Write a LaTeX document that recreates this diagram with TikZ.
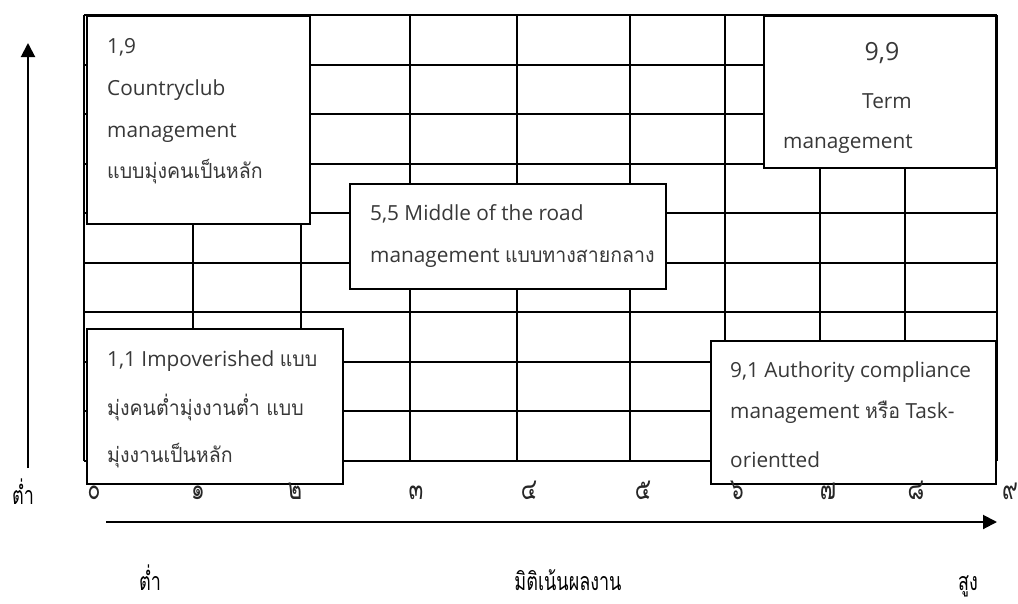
\documentclass[tikz,border=0pt]{standalone}
\usepackage{fontspec}
\setmainfont{Open Sans}
\newfontfamily\thai[Script=Thai, Scale=1.0, FakeStretch=0.94]{Loma}
\newfontfamily\thaic[Script=Thai, FakeStretch=0.72]{Loma}
\usetikzlibrary{arrows.meta}
\begin{document}
\begin{tikzpicture}[x=1pt,y=-1pt,
  gridline/.style={line width=2pt},
  qbox/.style={draw, line width=2pt, fill=white, inner sep=0pt, anchor=north west},
  txt/.style={anchor=base west, inner sep=0pt, font=\fontsize{20.8}{24}\selectfont, text=black!78},
  ctxt/.style={txt, anchor=base},
  tick/.style={anchor=base, inner sep=0pt, font=\thaic\fontsize{30}{32}\selectfont, text=black!85},
  lbl/.style={anchor=base, inner sep=0pt, font=\thaic\fontsize{25}{28}\selectfont},
  axis/.style={line width=2pt, -{Triangle[length=14pt,width=14pt]}}
]
\useasboundingbox (0,0) rectangle (1018,603);
% grid
\foreach \k in {0,...,9}
  \draw[gridline] (84,{15+\k*49.56}) -- (997,{15+\k*49.56});
\foreach \x in {84,193,301,410,517,630,725,820,905,997}
  \draw[gridline] (\x,15) -- (\x,461);
% boxes
\node[qbox, minimum width=223pt, minimum height=208pt] (b19) at (86,15) {};
\node[qbox, minimum width=316pt, minimum height=105pt] (b55) at (349,183) {};
\node[qbox, minimum width=232pt, minimum height=152pt] (b99) at (763,15) {};
\node[qbox, minimum width=256pt, minimum height=155pt] (b11) at (86,328) {};
\node[qbox, minimum width=285pt, minimum height=143pt] (b91) at (710,340) {};
% box 1,9
\node[txt] (t19a) at (107,53) {1,9};
\node[txt] (t19b) at (107,95) {Countryclub};
\node[txt] (t19c) at (107,137) {management};
\node[txt] (t19d) at (107,178) {\thai แบบมุ่งคนเป็นหลัก};
% box 5,5
\node[txt] (t55a) at (370,220) {5,5 Middle of the road};
\node[txt] (t55b) at (370,262) {management {\thai แบบทางสายกลาง}};
% box 9,9
\node[ctxt, font=\fontsize{25}{28}\selectfont] (t99a) at (882,60) {9,9};
\node[ctxt] (t99b) at (887,108) {Term};
\node[txt] (t99c) at (783,148) {management};
% box 1,1
\node[txt] (t11a) at (107,366) {1,1 Impoverished {\thai แบบ}};
\node[txt] (t11b) at (107,415) {\thai มุ่งคนต่ำมุ่งงานต่ำ แบบ};
\node[txt] (t11c) at (107,462) {\thai มุ่งงานเป็นหลัก};
% box 9,1
\node[txt] (t91a) at (730,377) {9,1 Authority compliance};
\node[txt] (t91b) at (730,418) {management {\thai หรือ} Task-};
\node[txt] (t91c) at (730,467) {orientted};
% axes
\coordinate (vs) at (28,468);
\coordinate (ve) at (28,43);
\draw[axis] (vs) -- (ve);
\coordinate (hs) at (106,522);
\coordinate (he) at (997,522);
\draw[axis] (hs) -- (he);
% ticks
\foreach \d/\x [count=\i] in {๐/94,๑/198,๒/295,๓/416,๔/529,๕/643,๖/737,๗/828,๘/916,๙/1010}
  \node[tick] (tick\i) at (\x,499) {\d};
% labels
\node[lbl] (low1) at (23,504) {ต่ำ};
\node[lbl] (low2) at (150,590) {ต่ำ};
\node[lbl] (dim) at (568,590) {มิติเน้นผลงาน};
\node[lbl] (high) at (968,590) {สูง};
\end{tikzpicture}
\end{document}
